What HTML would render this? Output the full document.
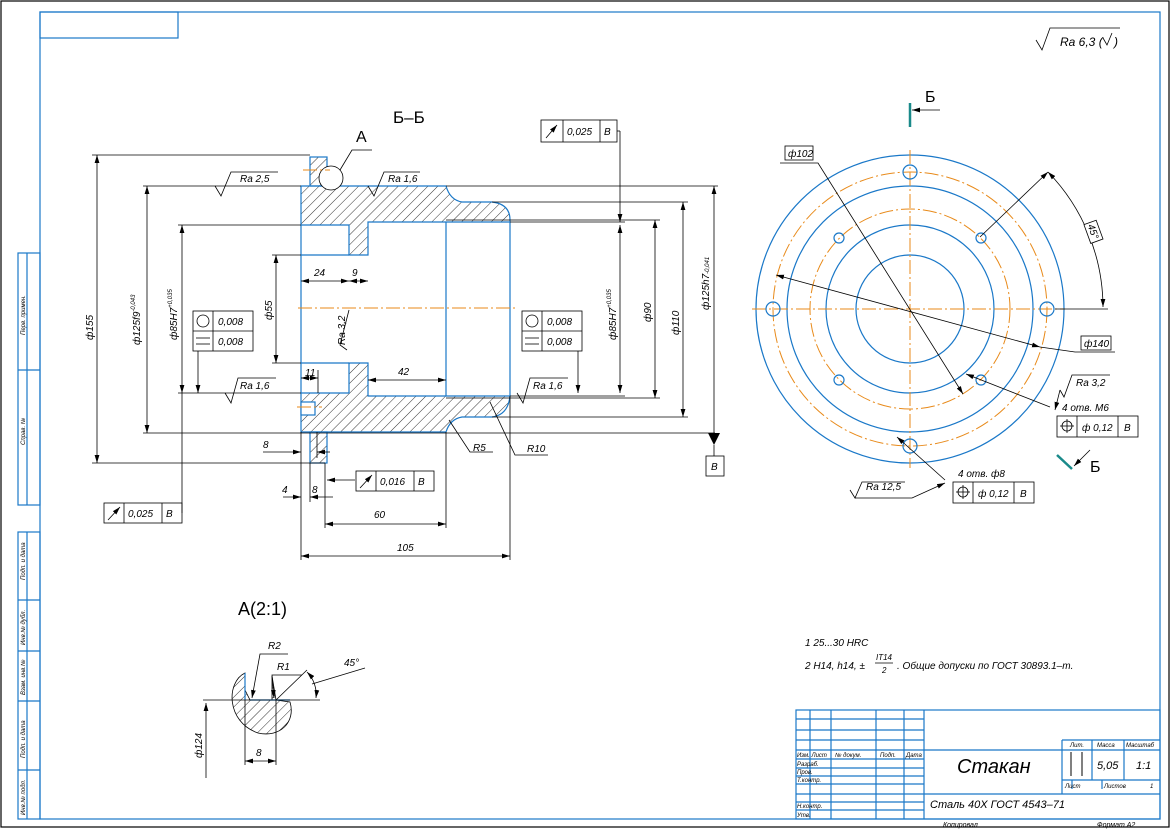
<!DOCTYPE html>
<html><head><meta charset="utf-8"><style>
html,body{margin:0;padding:0;background:#fff}
svg{display:block}
text{font-family:"Liberation Sans","DejaVu Sans",sans-serif;font-style:italic;font-size:10px;fill:#000}
text.s{font-size:6px}
text.f{font-size:7px}
.b{stroke:#1a78c8;fill:none;stroke-width:1.2}
.k{stroke:#000;fill:none;stroke-width:0.8}
.o{stroke:#e88a1a;fill:none;stroke-width:1;stroke-dasharray:14 3 2 3}
.t{stroke:#1a8a8a;stroke-width:2.5}
</style></head><body>
<svg width="1172" height="830" viewBox="0 0 1172 830" xmlns="http://www.w3.org/2000/svg">
<defs>
<marker id="a" viewBox="0 0 10 6" refX="10" refY="3" markerWidth="8" markerHeight="5" orient="auto-start-reverse" markerUnits="userSpaceOnUse"><path d="M0,0L10,3L0,6Z" fill="#000"/></marker>
<pattern id="h" patternUnits="userSpaceOnUse" width="7" height="7" patternTransform="rotate(45)"><line x1="0" y1="0" x2="0" y2="7" stroke="#000" stroke-width="0.8"/></pattern>
</defs>
<rect x="1" y="1" width="1168" height="826" fill="none" stroke="#000" stroke-width="1.2"/>
<rect x="40" y="12" width="1120" height="807" fill="none" stroke="#1a78c8" stroke-width="1.2"/>
<rect x="40" y="12" width="138" height="26" class="b"/>
<g class="b">
<rect x="18" y="253" width="22" height="252"/><line x1="27" y1="253" x2="27" y2="505"/><line x1="18" y1="370" x2="40" y2="370"/>
<rect x="18" y="532" width="22" height="287"/><line x1="27" y1="532" x2="27" y2="819"/>
<line x1="18" y1="600" x2="40" y2="600"/><line x1="18" y1="651" x2="40" y2="651"/><line x1="18" y1="701" x2="40" y2="701"/><line x1="18" y1="770" x2="40" y2="770"/>
</g>
<text class="s" transform="translate(25,335) rotate(-90)">Перв. примен.</text>
<text class="s" transform="translate(25,445) rotate(-90)">Справ. №</text>
<text class="s" transform="translate(25,580) rotate(-90)">Подп. и дата</text>
<text class="s" transform="translate(25,645) rotate(-90)">Инв.№ дубл.</text>
<text class="s" transform="translate(25,695) rotate(-90)">Взам. инв.№</text>
<text class="s" transform="translate(25,758) rotate(-90)">Подп. и дата</text>
<text class="s" transform="translate(25,815) rotate(-90)">Инв.№ подл.</text>
<path d="M1036,40 L1042,50 L1050,28 L1120,28" class="k"/>
<text x="1060" y="46" style="font-size:12px">Ra 6,3 (</text><path d="M1103,38 L1107,45 L1112,33" class="k"/><text x="1114" y="46" style="font-size:12px">)</text>

<text x="393" y="123" style="font-size:17px;font-style:normal">Б–Б</text>
<text x="356" y="142" style="font-size:16px;font-style:normal">А</text>
<path d="M340,170 L352,150 L372,150" class="k"/>
<path d="M301,186 L446,186 Q450,200 462,202 L492,202 Q510,204 510,220 L510,222 L368,222 L368,255 L349,255 L349,225 L301,225 Z" style="fill:url(#h);stroke:#1a78c8;stroke-width:1.2"/>
<path d="M301,393 L349,393 L349,363 L368,363 L368,396 L510,396 Q508,415 492,417 L462,417 Q450,419 446,432 L301,432 Z" style="fill:url(#h);stroke:#1a78c8;stroke-width:1.2"/>
<rect x="310" y="157" width="17" height="29" style="fill:url(#h);stroke:#1a78c8;stroke-width:1.2"/>
<rect x="310" y="432" width="17" height="31" style="fill:url(#h);stroke:#1a78c8;stroke-width:1.2"/>
<rect x="301" y="402" width="14" height="13" style="fill:#fff;stroke:#1a78c8;stroke-width:1.2"/>
<circle cx="331" cy="178" r="12" style="fill:#fff;stroke:#000;stroke-width:0.8"/>
<line x1="301" y1="225" x2="301" y2="393" class="b"/>
<line x1="301" y1="255" x2="349" y2="255" class="b"/><line x1="301" y1="363" x2="349" y2="363" class="b"/>
<line x1="446" y1="222" x2="446" y2="396" class="b"/>
<line x1="510" y1="222" x2="510" y2="396" class="b"/>
<line x1="298" y1="308" x2="515" y2="308" class="o"/>
<line x1="303" y1="170" x2="330" y2="170" class="o"/><line x1="297" y1="407" x2="322" y2="407" class="o"/>
<g class="k">
<line x1="92" y1="155" x2="310" y2="155"/><line x1="92" y1="463" x2="325" y2="463"/>
<line x1="97" y1="155" x2="97" y2="463" marker-start="url(#a)" marker-end="url(#a)"/>
<line x1="143" y1="186" x2="301" y2="186"/><line x1="143" y1="433" x2="715" y2="433"/>
<line x1="147" y1="186" x2="147" y2="433" marker-start="url(#a)" marker-end="url(#a)"/>
<line x1="178" y1="225" x2="301" y2="225"/><line x1="178" y1="393" x2="301" y2="393"/>
<line x1="182" y1="225" x2="182" y2="393" marker-start="url(#a)" marker-end="url(#a)"/>
<line x1="182" y1="393" x2="182" y2="513"/>
<line x1="272" y1="255" x2="301" y2="255"/><line x1="272" y1="363" x2="301" y2="363"/>
<line x1="276" y1="255" x2="276" y2="363" marker-start="url(#a)" marker-end="url(#a)"/>
<line x1="301" y1="281" x2="349" y2="281" marker-start="url(#a)" marker-end="url(#a)"/>
<line x1="349" y1="281" x2="368" y2="281" marker-start="url(#a)" marker-end="url(#a)"/>
<line x1="368" y1="380" x2="446" y2="380" marker-start="url(#a)" marker-end="url(#a)"/>
<line x1="301" y1="378" x2="318" y2="378" marker-start="url(#a)" marker-end="url(#a)"/><line x1="318" y1="370" x2="318" y2="393"/>
<line x1="301" y1="432" x2="301" y2="560"/>
<line x1="510" y1="396" x2="510" y2="560"/>
<line x1="301" y1="556" x2="510" y2="556" marker-start="url(#a)" marker-end="url(#a)"/>
<line x1="325" y1="463" x2="325" y2="528"/>
<line x1="446" y1="432" x2="446" y2="528"/>
<line x1="325" y1="524" x2="446" y2="524" marker-start="url(#a)" marker-end="url(#a)"/>
<line x1="310" y1="463" x2="310" y2="502"/>
<line x1="283" y1="497" x2="301" y2="497" marker-end="url(#a)"/><line x1="310" y1="497" x2="333" y2="497" marker-start="url(#a)"/>
<line x1="263" y1="452" x2="301" y2="452" marker-end="url(#a)"/><line x1="317" y1="452" x2="330" y2="452" marker-start="url(#a)"/>
<line x1="317" y1="432" x2="317" y2="458"/>
<line x1="355" y1="480" x2="327" y2="480" marker-end="url(#a)"/>
<path d="M215,186 L221,196 L231,172 L278,172"/>
<path d="M368,186 L374,196 L384,172 L420,172"/>
<path d="M225,393 L231,403 L238,378 L276,378"/>
<path d="M517,393 L523,403 L530,378 L568,378"/>
<path d="M349,310 L340,345 L347,350"/>
<path d="M449,420 L470,452 L493,452"/><path d="M490,402 L515,455 L548,455"/>
<line x1="510" y1="222" x2="625" y2="222"/><line x1="510" y1="396" x2="625" y2="396"/>
<line x1="620" y1="225" x2="620" y2="393" marker-start="url(#a)" marker-end="url(#a)"/>
<line x1="446" y1="220" x2="660" y2="220"/><line x1="446" y1="398" x2="660" y2="398"/>
<line x1="655" y1="220" x2="655" y2="398" marker-start="url(#a)" marker-end="url(#a)"/>
<line x1="492" y1="202" x2="688" y2="202"/><line x1="492" y1="417" x2="688" y2="417"/>
<line x1="683" y1="202" x2="683" y2="417" marker-start="url(#a)" marker-end="url(#a)"/>
<line x1="446" y1="186" x2="718" y2="186"/>
<line x1="714" y1="186" x2="714" y2="433" marker-start="url(#a)"/>
<line x1="617" y1="131" x2="620" y2="131"/><line x1="620" y1="131" x2="620" y2="222" marker-end="url(#a)"/>
</g>
<path d="M708,433 L720,433 L714,445 Z" fill="#000"/><line x1="714" y1="445" x2="714" y2="456" class="k"/>
<rect x="706" y="456" width="18" height="20" class="k"/><text x="711" y="470">В</text>
<g class="k">
<rect x="541" y="120" width="76" height="22"/><line x1="563" y1="120" x2="563" y2="142"/><line x1="600" y1="120" x2="600" y2="142"/><line x1="546" y1="138" x2="557" y2="125" marker-end="url(#a)"/>
<rect x="104" y="503" width="78" height="20"/><line x1="124" y1="503" x2="124" y2="523"/><line x1="162" y1="503" x2="162" y2="523"/><line x1="108" y1="520" x2="120" y2="507" marker-end="url(#a)"/>
<rect x="356" y="471" width="78" height="20"/><line x1="376" y1="471" x2="376" y2="491"/><line x1="414" y1="471" x2="414" y2="491"/><line x1="360" y1="488" x2="372" y2="475" marker-end="url(#a)"/>
<rect x="193" y="311" width="60" height="40"/><line x1="213" y1="311" x2="213" y2="351"/><line x1="193" y1="331" x2="253" y2="331"/><circle cx="203" cy="321" r="6"/><line x1="196" y1="338" x2="210" y2="338"/><line x1="196" y1="344" x2="210" y2="344"/>
<line x1="198" y1="351" x2="198" y2="393" marker-end="url(#a)"/>
<rect x="522" y="311" width="60" height="40"/><line x1="542" y1="311" x2="542" y2="351"/><line x1="522" y1="331" x2="582" y2="331"/><circle cx="532" cy="321" r="6"/><line x1="525" y1="338" x2="539" y2="338"/><line x1="525" y1="344" x2="539" y2="344"/>
<line x1="578" y1="351" x2="578" y2="393" marker-end="url(#a)"/>
</g>
<text x="567" y="135">0,025</text><text x="604" y="135">В</text>
<text x="128" y="517">0,025</text><text x="166" y="517">В</text>
<text x="380" y="485">0,016</text><text x="418" y="485">В</text>
<text x="218" y="325">0,008</text><text x="218" y="345">0,008</text>
<text x="547" y="325">0,008</text><text x="547" y="345">0,008</text>
<text x="240" y="182">Ra 2,5</text><text x="388" y="182">Ra 1,6</text>
<text x="240" y="389">Ra 1,6</text><text x="533" y="389">Ra 1,6</text>
<text transform="translate(345,345) rotate(-90)">Ra 3,2</text>
<text x="314" y="276">24</text><text x="352" y="276">9</text><text x="398" y="375">42</text><text x="305" y="376">11</text>
<text x="263" y="448">8</text><text x="282" y="493">4</text><text x="312" y="493">8</text>
<text x="374" y="518">60</text><text x="397" y="551">105</text>
<text x="473" y="451">R5</text><text x="527" y="452">R10</text>
<text transform="translate(93,340) rotate(-90)">ф155</text>
<text transform="translate(140,345) rotate(-90)">ф125f9<tspan dy="-5" style="font-size:6px">-0,043</tspan></text>
<text transform="translate(177,340) rotate(-90)">ф85H7<tspan dy="-5" style="font-size:6px">+0,035</tspan></text>
<text transform="translate(272,320) rotate(-90)">ф55</text>
<text transform="translate(616,340) rotate(-90)">ф85H7<tspan dy="-5" style="font-size:6px">+0,035</tspan></text>
<text transform="translate(651,322) rotate(-90)">ф90</text>
<text transform="translate(679,335) rotate(-90)">ф110</text>
<text transform="translate(709,310) rotate(-90)">ф125h7<tspan style="font-size:6px">-0,041</tspan></text>

<g class="b"><circle cx="910" cy="309" r="154"/><circle cx="910" cy="309" r="123"/><circle cx="910" cy="309" r="84"/><circle cx="910" cy="309" r="54"/></g>
<g class="o"><circle cx="910" cy="309" r="137"/><circle cx="910" cy="309" r="100"/>
<line x1="752" y1="309" x2="1065" y2="309"/><line x1="910" y1="150" x2="910" y2="468"/></g>
<g class="b"><circle cx="910" cy="172" r="7"/><circle cx="910" cy="446" r="7"/><circle cx="773" cy="309" r="7"/><circle cx="1047" cy="309" r="7"/>
<circle cx="839" cy="238" r="5"/><circle cx="981" cy="238" r="5"/><circle cx="839" cy="380" r="5"/><circle cx="981" cy="380" r="5"/></g>
<line x1="910" y1="103" x2="910" y2="127" class="t"/><line x1="940" y1="110" x2="912" y2="110" class="k" marker-end="url(#a)"/>
<text x="925" y="102" style="font-size:16px;font-style:normal">Б</text>
<line x1="1057" y1="455" x2="1072" y2="469" class="t"/><line x1="1090" y1="450" x2="1074" y2="466" class="k" marker-end="url(#a)"/>
<text x="1090" y="472" style="font-size:16px;font-style:normal">Б</text>
<g class="k">
<path d="M780,163 L818,163 L963,394" marker-end="url(#a)"/>
<line x1="776" y1="275" x2="1040" y2="347" marker-start="url(#a)" marker-end="url(#a)"/><path d="M1040,347 L1075,352 L1115,352"/>
<line x1="980" y1="237" x2="1048" y2="172" marker-end="url(#a)"/>
<path d="M1048,172 A195,195 0 0 1 1103,307" marker-start="url(#a)" marker-end="url(#a)"/>
<line x1="1055" y1="309" x2="1108" y2="309"/>
<line x1="966" y1="374" x2="1050" y2="407" marker-start="url(#a)"/>
<path d="M1060,390 L1064,397 L1072,375 L1110,375"/><path d="M1060,390 L1055,410" marker-end="url(#a)"/>
<line x1="897" y1="437" x2="945" y2="480" marker-start="url(#a)"/>
<path d="M850,490 L855,498 L862,482 L905,482"/><path d="M855,498 L912,498 L945,483" marker-end="url(#a)"/>
<rect x="785" y="146" width="28" height="14"/>
<rect x="1081" y="336" width="30" height="14"/>
<rect x="1057" y="416" width="81" height="21"/><line x1="1077" y1="416" x2="1077" y2="437"/><line x1="1118" y1="416" x2="1118" y2="437"/>
<circle cx="1067" cy="426" r="5"/><line x1="1060" y1="426" x2="1074" y2="426"/><line x1="1067" y1="419" x2="1067" y2="433"/>
<rect x="953" y="482" width="81" height="21"/><line x1="973" y1="482" x2="973" y2="503"/><line x1="1014" y1="482" x2="1014" y2="503"/>
<circle cx="963" cy="492" r="5"/><line x1="956" y1="492" x2="970" y2="492"/><line x1="963" y1="485" x2="963" y2="499"/>
</g>
<g transform="translate(1093,232) rotate(70)"><rect x="-10" y="-7" width="20" height="13" fill="#fff" stroke="#000" stroke-width="0.8"/><text x="-8" y="3">45°</text></g>
<text x="788" y="157">ф102</text><text x="1084" y="347">ф140</text>
<text x="1062" y="411">4 отв. M6</text><text x="1082" y="431">ф 0,12</text><text x="1124" y="431">В</text>
<text x="958" y="477">4 отв. ф8</text><text x="978" y="497">ф 0,12</text><text x="1020" y="497">В</text>
<text x="1076" y="386">Ra 3,2</text><text x="866" y="490">Ra 12,5</text>

<text x="238" y="615" style="font-size:18px;font-style:normal">А(2:1)</text>
<path d="M245,673 C226,682 226,722 258,733 C280,738 296,722 290,702 L276,700 L272,676 L272,700 L250,700 L245,690 Z" style="fill:url(#h);stroke:#000;stroke-width:0.8"/>
<line x1="245" y1="673" x2="245" y2="700" class="b"/><line x1="250" y1="700" x2="290" y2="700" class="b"/>
<g class="k">
<line x1="203" y1="700" x2="320" y2="700"/>
<line x1="206" y1="778" x2="206" y2="703" marker-end="url(#a)"/>
<line x1="245" y1="700" x2="245" y2="765"/><line x1="276" y1="700" x2="276" y2="765"/>
<line x1="245" y1="761" x2="276" y2="761" marker-start="url(#a)" marker-end="url(#a)"/>
<path d="M288,654 L260,654 L252,698" marker-end="url(#a)"/>
<path d="M302,675 L272,675 L274,698" marker-end="url(#a)"/>
<line x1="276" y1="700" x2="307" y2="670"/>
<path d="M307,672 A32,32 0 0 1 316,698" marker-start="url(#a)" marker-end="url(#a)"/>
<line x1="312" y1="684" x2="365" y2="668"/>
</g>
<text x="268" y="649">R2</text><text x="277" y="670">R1</text><text x="344" y="666">45°</text>
<text x="256" y="756">8</text><text transform="translate(202,758) rotate(-90)">ф124</text>

<text x="805" y="646">1  25...30 HRC</text>
<text x="805" y="669">2  H14, h14, ±</text><text x="876" y="660" style="font-size:8px">IT14</text><line x1="875" y1="663" x2="893" y2="663" class="k"/><text x="882" y="673" style="font-size:8px">2</text>
<text x="897" y="669">. Общие допуски по ГОСТ 30893.1–m.</text>

<g class="b">
<rect x="796" y="710" width="364" height="109"/>
<line x1="810" y1="710" x2="810" y2="819"/><line x1="831" y1="710" x2="831" y2="819"/><line x1="876" y1="710" x2="876" y2="819"/><line x1="904" y1="710" x2="904" y2="819"/><line x1="924" y1="710" x2="924" y2="819"/>
<line x1="796" y1="719" x2="924" y2="719"/><line x1="796" y1="730" x2="924" y2="730"/><line x1="796" y1="740" x2="924" y2="740"/><line x1="796" y1="750" x2="1160" y2="750"/>
<line x1="796" y1="759" x2="924" y2="759"/><line x1="796" y1="768" x2="924" y2="768"/><line x1="796" y1="776" x2="924" y2="776"/><line x1="796" y1="784" x2="924" y2="784"/>
<line x1="796" y1="794" x2="1160" y2="794"/><line x1="796" y1="802" x2="924" y2="802"/><line x1="796" y1="810" x2="924" y2="810"/>
<line x1="1062" y1="740" x2="1062" y2="794"/><line x1="1092" y1="740" x2="1092" y2="780"/><line x1="1124" y1="740" x2="1124" y2="780"/>
<line x1="1062" y1="740" x2="1160" y2="740"/><line x1="1062" y1="780" x2="1160" y2="780"/><line x1="1072" y1="780" x2="1072" y2="789"/><line x1="1102" y1="780" x2="1102" y2="789"/>
</g>
<line x1="1071" y1="752" x2="1071" y2="776" stroke="#000"/><line x1="1082" y1="752" x2="1082" y2="776" stroke="#000"/>
<text class="s" x="797" y="757">Изм. Лист</text><text class="s" x="835" y="757">№ докум.</text><text class="s" x="880" y="757">Подп.</text><text class="s" x="906" y="757">Дата</text>
<text class="s" x="797" y="766">Разраб.</text><text class="s" x="797" y="774">Пров.</text><text class="s" x="797" y="782">Т.контр.</text><text class="s" x="797" y="808">Н.контр.</text><text class="s" x="797" y="817">Утв.</text>
<text class="s" x="1070" y="747">Лит.</text><text class="s" x="1097" y="747">Масса</text><text class="s" x="1126" y="747">Масштаб</text>
<text class="s" x="1065" y="788">Лист</text><text class="s" x="1104" y="788">Листов</text><text class="s" x="1150" y="788">1</text>
<text class="f" x="943" y="827">Копировал</text><text class="f" x="1097" y="827">Формат    А2</text>
<text x="957" y="773" style="font-size:20px">Стакан</text>
<text x="1097" y="769" style="font-size:11px">5,05</text><text x="1136" y="769" style="font-size:11px">1:1</text>
<text x="930" y="808" style="font-size:11px">Сталь 40Х ГОСТ 4543–71</text>
</svg>
</body></html>
